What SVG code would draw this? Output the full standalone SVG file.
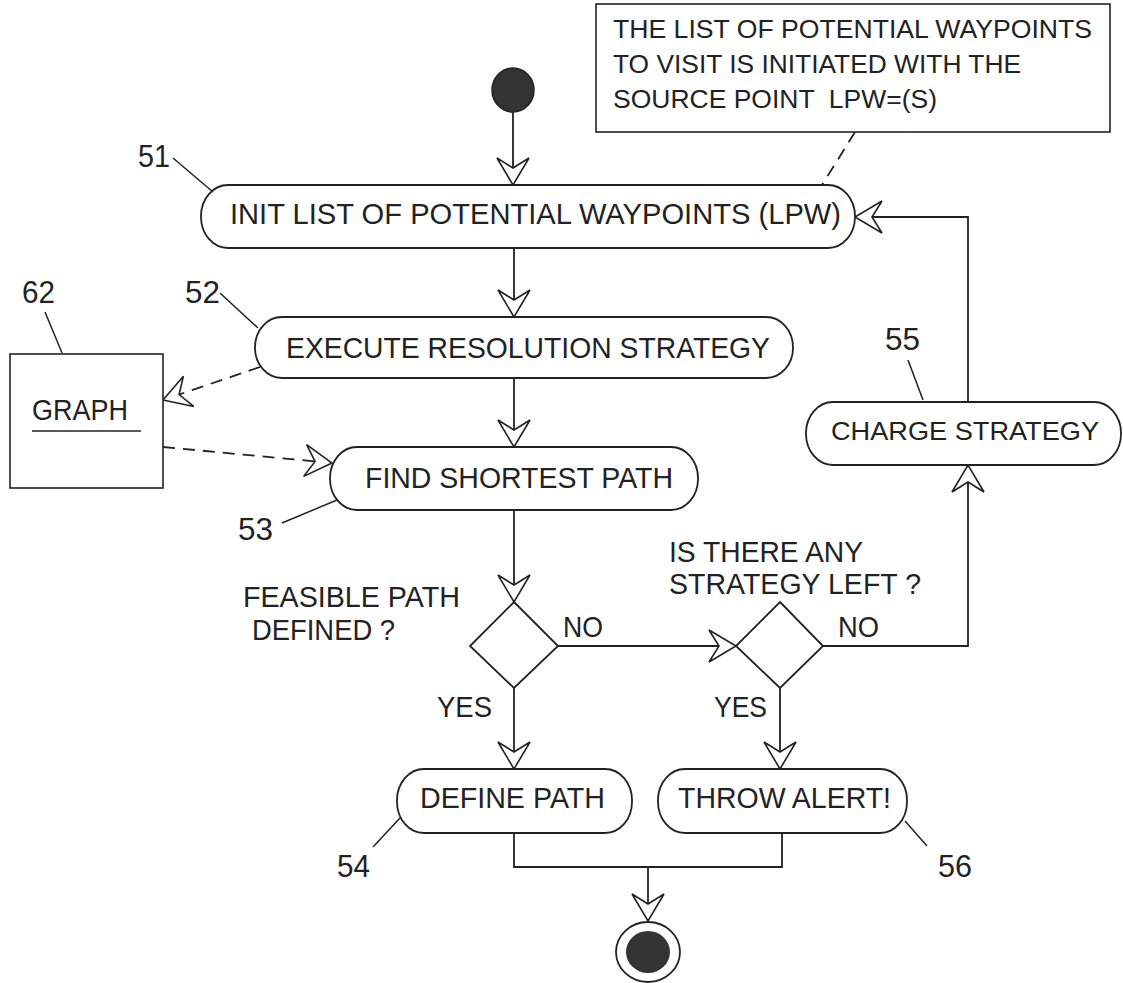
<svg xmlns="http://www.w3.org/2000/svg" width="1123" height="983" viewBox="0 0 1123 983">
<style>
  text { font-family: "Liberation Sans", Arial, sans-serif; fill: #222; }
  .t { font-size: 30px; }
  .ts { font-size: 26.5px; }
  .lbl { font-size: 31px; }
  .node { fill: #fff; stroke: #222; stroke-width: 1.8; }
  .ln { fill: none; stroke: #222; stroke-width: 1.8; }
  .dash { fill: none; stroke: #222; stroke-width: 1.8; stroke-dasharray: 12 8; }
  .lead { fill: none; stroke: #222; stroke-width: 1.5; }
</style>
<defs>
  <marker id="arr" markerUnits="userSpaceOnUse" viewBox="-30 -20 34 40" markerWidth="34" markerHeight="40" refX="0" refY="0" orient="auto">
    <path d="M -27,-16 L 0,0 L -27,16 L -17,0 Z" fill="#fff" stroke="#222" stroke-width="1.6" stroke-linejoin="miter"/>
  </marker>
</defs>

<g id="connectors">
  <line class="ln" x1="513" y1="112" x2="513" y2="185" marker-end="url(#arr)"/>
  <line class="ln" x1="514" y1="248" x2="514" y2="317" marker-end="url(#arr)"/>
  <line class="ln" x1="514" y1="378" x2="514" y2="447" marker-end="url(#arr)"/>
  <line class="ln" x1="514" y1="510" x2="514" y2="602" marker-end="url(#arr)"/>
  <line class="ln" x1="514" y1="688" x2="514" y2="769" marker-end="url(#arr)"/>
  <line class="ln" x1="558" y1="646" x2="736" y2="646" marker-end="url(#arr)"/>
  <line class="ln" x1="780" y1="688" x2="780" y2="769" marker-end="url(#arr)"/>
  <polyline class="ln" points="823,646 968,646 968,465" marker-end="url(#arr)"/>
  <polyline class="ln" points="968,402 968,217 855,217" marker-end="url(#arr)"/>
  <polyline class="ln" points="514,833 514,867 782,867 782,833"/>
  <line class="ln" x1="648" y1="867" x2="648" y2="921" marker-end="url(#arr)"/>
  <line class="dash" x1="260" y1="367" x2="163" y2="400" marker-end="url(#arr)"/>
  <line class="dash" x1="163" y1="447" x2="332" y2="463" marker-end="url(#arr)"/>
  <line class="dash" x1="855" y1="132" x2="822" y2="185"/>
</g>

<g id="note">
  <rect x="596" y="4" width="514" height="128" fill="#fff" stroke="#222" stroke-width="1.6"/>
  <text class="ts" x="613" y="38" textLength="479" lengthAdjust="spacingAndGlyphs">THE LIST OF POTENTIAL WAYPOINTS</text>
  <text class="ts" x="613" y="73" textLength="408" lengthAdjust="spacingAndGlyphs">TO VISIT IS INITIATED WITH THE</text>
  <text class="ts" x="613" y="108" textLength="324" lengthAdjust="spacingAndGlyphs" xml:space="preserve">SOURCE POINT  LPW=(S)</text>
</g>

<g id="start">
  <ellipse cx="513" cy="90" rx="21" ry="22" fill="#333" stroke="#222" stroke-width="1.5"/>
</g>

<g id="n51">
  <rect class="node" x="201" y="185" width="654" height="63" rx="27" ry="31"/>
  <text class="t" x="230" y="224" textLength="611" lengthAdjust="spacingAndGlyphs">INIT LIST OF POTENTIAL WAYPOINTS (LPW)</text>
  <text class="lbl" x="138" y="167" textLength="32" lengthAdjust="spacingAndGlyphs">51</text>
  <line class="lead" x1="173" y1="158" x2="213" y2="192"/>
</g>

<g id="n52">
  <rect class="node" x="255" y="317" width="538" height="61" rx="27" ry="30"/>
  <text class="t" x="286" y="358" textLength="484" lengthAdjust="spacingAndGlyphs">EXECUTE RESOLUTION STRATEGY</text>
  <text class="lbl" x="185" y="303" textLength="35" lengthAdjust="spacingAndGlyphs">52</text>
  <line class="lead" x1="220" y1="293" x2="258" y2="328"/>
</g>

<g id="n62">
  <rect x="10" y="354" width="153" height="134" fill="#fff" stroke="#222" stroke-width="1.6"/>
  <text class="t" x="32" y="420" textLength="96" lengthAdjust="spacingAndGlyphs">GRAPH</text>
  <line class="lead" x1="32" y1="431" x2="141" y2="431"/>
  <text class="lbl" x="22" y="303" textLength="33" lengthAdjust="spacingAndGlyphs">62</text>
  <line class="lead" x1="45" y1="312" x2="62" y2="353"/>
</g>

<g id="n53">
  <rect class="node" x="330" y="447" width="368" height="63" rx="27" ry="31"/>
  <text class="t" x="365" y="488" textLength="308" lengthAdjust="spacingAndGlyphs">FIND SHORTEST PATH</text>
  <text class="lbl" x="238" y="540" textLength="35" lengthAdjust="spacingAndGlyphs">53</text>
  <line class="lead" x1="282" y1="523" x2="337" y2="500"/>
</g>

<g id="n55">
  <rect class="node" x="806" y="402" width="315" height="63" rx="27" ry="31"/>
  <text class="ts" x="831" y="440" textLength="268" lengthAdjust="spacingAndGlyphs">CHARGE STRATEGY</text>
  <text class="lbl" x="885" y="350" textLength="35" lengthAdjust="spacingAndGlyphs">55</text>
  <line class="lead" x1="908" y1="360" x2="923" y2="400"/>
</g>

<g id="d1">
  <polygon points="514,602 558,646 514,688 470,646" fill="#fff" stroke="#222" stroke-width="1.8"/>
  <text class="t" x="243" y="607" textLength="217" lengthAdjust="spacingAndGlyphs">FEASIBLE PATH</text>
  <text class="t" x="252" y="640" textLength="143" lengthAdjust="spacingAndGlyphs">DEFINED ?</text>
  <text class="t" x="563" y="637" textLength="40" lengthAdjust="spacingAndGlyphs">NO</text>
  <text class="t" x="437" y="717" textLength="55" lengthAdjust="spacingAndGlyphs">YES</text>
</g>

<g id="d2">
  <polygon points="780,602 823,646 780,688 736,646" fill="#fff" stroke="#222" stroke-width="1.8"/>
  <text class="t" x="669" y="562" textLength="194" lengthAdjust="spacingAndGlyphs">IS THERE ANY</text>
  <text class="t" x="669" y="594" textLength="252" lengthAdjust="spacingAndGlyphs">STRATEGY LEFT ?</text>
  <text class="t" x="838" y="637" textLength="41" lengthAdjust="spacingAndGlyphs">NO</text>
  <text class="t" x="714" y="717" textLength="53" lengthAdjust="spacingAndGlyphs">YES</text>
</g>

<g id="n54">
  <rect class="node" x="397" y="769" width="235" height="64" rx="27" ry="31"/>
  <text class="t" x="420" y="808" textLength="185" lengthAdjust="spacingAndGlyphs">DEFINE PATH</text>
  <text class="lbl" x="337" y="877" textLength="33" lengthAdjust="spacingAndGlyphs">54</text>
  <line class="lead" x1="373" y1="847" x2="400" y2="818"/>
</g>

<g id="n56">
  <rect class="node" x="658" y="769" width="249" height="64" rx="27" ry="31"/>
  <text class="t" x="678" y="808" textLength="213" lengthAdjust="spacingAndGlyphs">THROW ALERT!</text>
  <text class="lbl" x="938" y="877" textLength="34" lengthAdjust="spacingAndGlyphs">56</text>
  <line class="lead" x1="905" y1="821" x2="927" y2="846"/>
</g>

<g id="end">
  <ellipse cx="648" cy="952" rx="32" ry="30" fill="#fff" stroke="#222" stroke-width="1.8"/>
  <ellipse cx="648" cy="952" rx="22" ry="21" fill="#333"/>
</g>
</svg>
